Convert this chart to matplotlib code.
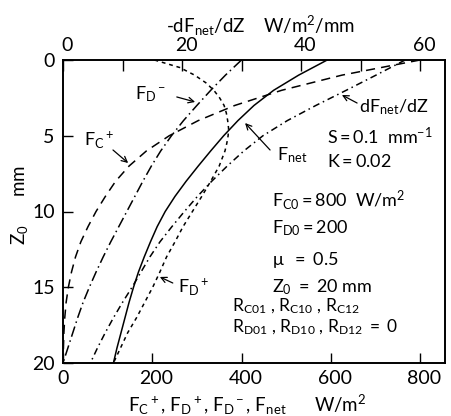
import matplotlib
matplotlib.use("Agg")
import matplotlib.pyplot as plt
import matplotlib.transforms as mtransforms

plt.rcParams['font.family'] = ['Lato', 'DejaVu Sans']
plt.rcParams['mathtext.fontset'] = 'custom'
plt.rcParams['mathtext.rm'] = 'Lato'
plt.rcParams['mathtext.it'] = 'Lato:italic'
plt.rcParams['mathtext.bf'] = 'Lato:bold'

# depth (mm)
z = [0, 1, 2, 3, 4, 5, 6, 7, 8, 9, 10, 11, 12, 13, 14, 15, 16, 17, 18, 19, 20]
# fluxes W/m^2
fc_plus = [800, 625, 490, 385, 303, 238, 187, 148, 118, 95, 74, 56, 40, 28, 19, 12, 7, 4, 2, 1, 0]
fd_minus = [400, 364, 331, 300, 270, 243, 219, 198, 179, 161, 143, 125, 107, 90, 74, 59, 45, 33, 22, 11, 0]
f_net = [592, 528, 472, 428, 392, 360, 331, 303, 276, 251, 229, 211, 196, 182, 169, 158, 148, 139, 130, 121, 113]
# F_D+ with finer sampling near the top
z_dp = [0, 0.5, 1, 1.5, 2, 2.5, 3, 3.5, 4, 4.5, 5, 5.5, 6, 7, 8, 9, 10, 11, 12, 13, 14, 15, 16, 17, 18, 19, 20]
fd_plus = [205, 262, 295, 320, 338, 351, 361, 366, 369, 371, 370, 367, 363, 350, 331, 311, 290, 269, 251, 232, 217, 201, 183, 165, 145, 129, 113]
# -dFnet/dZ W/m^2/mm (top axis)
dfdz = [57.5, 52.6, 47.6, 42.5, 37.7, 33.6, 30.4, 27.6, 25.0, 22.6, 20.4, 18.3, 16.3, 14.6, 13.1, 11.6, 10.0, 8.5, 7.1, 5.8, 4.6]

bottom_ticks = [0, 200, 400, 600, 800]
top_ticks = [0, 10, 20, 30, 40, 50, 60]
top_labels = ['0', '', '20', '', '40', '', '60']
y_ticks = [0, 5, 10, 15, 20]

W, H = 451, 416
fig = plt.figure(figsize=(W / 100, H / 100), dpi=100)
ax = fig.add_axes([63 / W, 1 - 363 / H, (445 - 63) / W, (363 - 60) / H])
xmax = 856
ax.set_xlim(0, xmax)
ax.set_ylim(20, 0)
ax2 = ax.twiny()
ax2.set_xlim(0, xmax * 60 / 800)

lw = 1.1
ax.plot(fc_plus, z, color='k', lw=lw, dashes=(6, 4))
ax.plot(fd_plus, z_dp, color='k', lw=lw, dashes=(2.5, 2.5))
ax.plot(fd_minus, z, color='k', lw=lw, dashes=(7, 2.5, 1, 2.5))
ax.plot(f_net, z, color='k', lw=lw)
ax2.plot(dfdz, z, color='k', lw=lw, dashes=(4.5, 2.5, 1, 2.5))

fs = 13
tfs = 14
for a in (ax, ax2):
    for s in a.spines.values():
        s.set_linewidth(1.2)
ax.set_xticks(bottom_ticks)
ax.set_xticklabels([str(t) for t in bottom_ticks])
ax.set_yticks(y_ticks)
ax.set_yticklabels([str(t) for t in y_ticks])
ax.tick_params(axis='both', direction='in', length=7, width=1, labelsize=tfs, pad=5)
ax.tick_params(axis='y', pad=6)
ax2.set_xticks(top_ticks)
ax2.set_xticklabels(top_labels)
ax2.tick_params(axis='x', direction='in', length=8, width=1, labelsize=tfs, pad=4)

off = mtransforms.ScaledTranslation(4 / 100, 0, fig.dpi_scale_trans)
for lab in ax.get_xticklabels()[1:] + ax2.get_xticklabels():
    lab.set_transform(lab.get_transform() + off)

ax.set_xlabel(r'F$_\mathrm{C}$$^+$, F$_\mathrm{D}$$^+$, F$_\mathrm{D}$$^-$, F$_\mathrm{net}$      W/m$^2$',
              fontsize=fs + 0.5)
ax.xaxis.set_label_coords((247 - 63) / 382, (363 - 417) / 303)
ax.xaxis.label.set_va('bottom')
ax2.set_xlabel(r'-dF$_\mathrm{net}$/dZ    W/m$^2$/mm', fontsize=fs + 0.5)
ax2.xaxis.set_label_coords((260 - 63) / 382, (363 - 38) / 303)
ax2.xaxis.label.set_va('bottom')
fig.text(20 / W, 1 - 205 / H, r'Z$_0$      mm', fontsize=fs + 0.5, rotation=90,
         ha='center', va='center')

# curve labels with arrows
arr = dict(arrowstyle='->', color='k', lw=0.9, shrinkA=0, shrinkB=0)
ax.text(195, 2.24, r'F$_\mathrm{D}$$^-$', fontsize=fs, ha='center', va='center')
ax.annotate('', xy=(296, 2.77), xytext=(255, 2.44), arrowprops=arr)
ax.text(81, 5.28, r'F$_\mathrm{C}$$^+$', fontsize=fs, ha='center', va='center')
ax.annotate('', xy=(146, 6.80), xytext=(112, 5.94), arrowprops=arr)
ax.text(663, 3.14, r'dF$_\mathrm{net}$/dZ', fontsize=fs, ha='left', va='center')
ax.annotate('', xy=(625, 2.31), xytext=(659, 2.84), arrowprops=arr)
ax.text(513, 6.27, r'F$_\mathrm{net}$', fontsize=fs, ha='center', va='center')
ax.annotate('', xy=(408, 4.16), xytext=(464, 5.94), arrowprops=arr)
ax.text(293, 14.98, r'F$_\mathrm{D}$$^+$', fontsize=fs, ha='center', va='center')
ax.annotate('', xy=(217, 14.32), xytext=(246, 14.72), arrowprops=arr)

# parameter text
ax.text(592, 5.02, r'S$=$0.1  mm$^{-1}$', fontsize=fs, ha='left', va='center')
ax.text(592, 6.67, r'K$=$0.02', fontsize=fs, ha='left', va='center')
ax.text(468, 9.24, r'F$_\mathrm{C0}$$=$800  W/m$^2$', fontsize=fs, ha='left', va='center')
ax.text(468, 11.09, r'F$_\mathrm{D0}$$=$200', fontsize=fs, ha='left', va='center')
ax.text(468, 13.2, r'$\mathrm{\mu}$  $=$ 0.5', fontsize=fs, ha='left', va='center')
ax.text(468, 14.98, r'Z$_0$ $=$ 20 mm', fontsize=fs, ha='left', va='center')
ax.text(379, 16.24, r'R$_\mathrm{C01}$ , R$_\mathrm{C10}$ , R$_\mathrm{C12}$', fontsize=12.5,
        ha='left', va='center')
ax.text(379, 17.62, r'R$_\mathrm{D01}$ , R$_\mathrm{D10}$ , R$_\mathrm{D12}$ $=$ 0', fontsize=12.5,
        ha='left', va='center')

fig.savefig('out.png', dpi=100)
